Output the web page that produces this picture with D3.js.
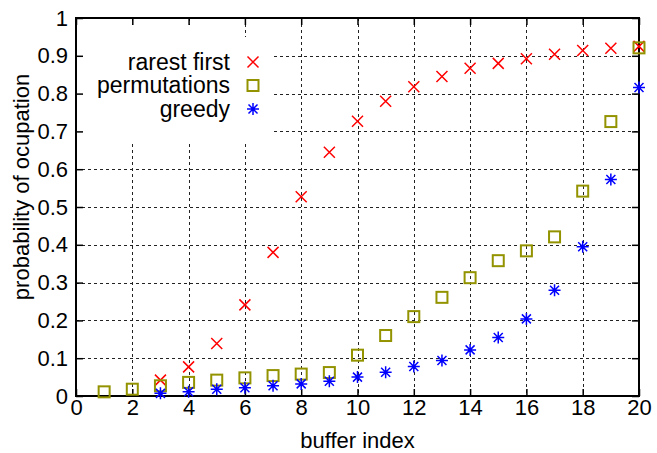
<!DOCTYPE html>
<html>
<head>
<meta charset="utf-8">
<script src="https://cdn.jsdelivr.net/npm/d3@7"></script>
<style>
	body { margin: 0; background: #fff; }
	svg { display: block; }
	text { font-family: "Liberation Sans", Arial, sans-serif; fill: #000; }
</style>
</head>
<body>
<div id="chart"></div>
<script>
// DATA
const bufferIndex = d3.range(1, 21);
const rarestFirst = [null, null, 0.042, 0.077, 0.139, 0.241, 0.380, 0.527, 0.645, 0.727,
	0.780, 0.818, 0.845, 0.867, 0.880, 0.892, 0.904, 0.914, 0.920, 0.925];
const permutations = [0.011, 0.018, 0.027, 0.036, 0.042, 0.048, 0.054, 0.058, 0.062, 0.108,
	0.160, 0.210, 0.261, 0.313, 0.358, 0.384, 0.421, 0.542, 0.726, 0.921];
const greedy = [null, null, 0.007, 0.011, 0.018, 0.022, 0.027, 0.032, 0.039, 0.050,
	0.063, 0.078, 0.094, 0.122, 0.155, 0.204, 0.280, 0.395, 0.573, 0.816];
const xTicks = [0, 2, 4, 6, 8, 10, 12, 14, 16, 18, 20];
const yTicks = [0, 0.1, 0.2, 0.3, 0.4, 0.5, 0.6, 0.7, 0.8, 0.9, 1];
const seriesNames = ["rarest first", "permutations", "greedy"];

// chart dimension
const w = 657, h = 453;
const pLeft = 76, pRight = 639, pTop = 18, pBottom = 396;
const fontSize = 22;

const svg = d3.select("#chart").append("svg")
	.attr("width", w)
	.attr("height", h);

// scales
const x = d3.scaleLinear().domain([0, 20]).range([pLeft, pRight]);
const y = d3.scaleLinear().domain([0, 1]).range([pBottom, pTop]);

// grid
const grid = svg.append("g")
	.attr("stroke", "#222")
	.attr("stroke-width", 1)
	.attr("stroke-dasharray", "3,3");
grid.selectAll(".gx")
	.data(xTicks.slice(1, -1))
	.enter().append("line")
	.attr("x1", d => Math.round(x(d)) + 0.5).attr("x2", d => Math.round(x(d)) + 0.5)
	.attr("y1", pTop).attr("y2", pBottom);
grid.selectAll(".gy")
	.data(yTicks.slice(1, -1))
	.enter().append("line")
	.attr("x1", pLeft).attr("x2", pRight)
	.attr("y1", d => Math.round(y(d)) + 0.5).attr("y2", d => Math.round(y(d)) + 0.5);

// legend background hides the grid
svg.append("rect")
	.attr("x", pLeft).attr("y", 37)
	.attr("width", 272 - pLeft).attr("height", 142 - 37)
	.attr("fill", "#fff");
svg.append("rect")
	.attr("x", pLeft).attr("y", 25)
	.attr("width", 225 - pLeft).attr("height", 15)
	.attr("fill", "#fff");

// axes (ticks inward on all sides)
const fmt = d => d3.format("~g")(d);
const axB = svg.append("g")
	.attr("transform", `translate(0,${pBottom})`)
	.call(d3.axisBottom(x).tickValues(xTicks).tickSize(-7).tickPadding(3).tickFormat(fmt));
const axL = svg.append("g")
	.attr("transform", `translate(${pLeft},0)`)
	.call(d3.axisLeft(y).tickValues(yTicks).tickSize(-7).tickPadding(8).tickFormat(fmt));
const axT = svg.append("g")
	.attr("transform", `translate(0,${pTop})`)
	.call(d3.axisTop(x).tickValues(xTicks).tickSize(-7).tickFormat(""));
const axR = svg.append("g")
	.attr("transform", `translate(${pRight},0)`)
	.call(d3.axisRight(y).tickValues(yTicks).tickSize(-7).tickFormat(""));
[axB, axL, axT, axR].forEach(a => {
	a.select(".domain").remove();
	a.selectAll("line").attr("stroke", "#000").attr("stroke-width", 1.5);
	a.selectAll("text")
		.style("font-family", '"Liberation Sans", Arial, sans-serif')
		.style("font-size", fontSize + "px");
});

// frame
svg.append("rect")
	.attr("x", pLeft).attr("y", pTop)
	.attr("width", pRight - pLeft).attr("height", pBottom - pTop)
	.attr("fill", "none")
	.attr("stroke", "#000")
	.attr("stroke-width", 2);

// marker shapes
const drawCross = (g, cx, cy) => {
	const r = 5.5;
	g.append("path")
		.attr("d", `M${cx - r},${cy - r}L${cx + r},${cy + r}M${cx - r},${cy + r}L${cx + r},${cy - r}`)
		.attr("stroke", "#ff0000").attr("stroke-width", 1.5).attr("fill", "none");
};
const drawSquare = (g, cx, cy) => {
	const r = 5.5;
	g.append("rect")
		.attr("x", cx - r).attr("y", cy - r)
		.attr("width", 2 * r).attr("height", 2 * r)
		.attr("stroke", "#939300").attr("stroke-width", 2).attr("fill", "none");
};
const drawStar = (g, cx, cy) => {
	const r = 6, d = 4.5;
	g.append("path")
		.attr("d", `M${cx - r},${cy}L${cx + r},${cy}M${cx},${cy - r}L${cx},${cy + r}` +
			`M${cx - d},${cy - d}L${cx + d},${cy + d}M${cx - d},${cy + d}L${cx + d},${cy - d}`)
		.attr("stroke", "#0000ff").attr("stroke-width", 1.5).attr("fill", "none");
};
const painters = [drawCross, drawSquare, drawStar];
const series = [rarestFirst, permutations, greedy];

// points
const marks = svg.append("g");
series.forEach((vals, si) => {
	vals.forEach((v, i) => {
		if (v === null) return;
		painters[si](marks, x(bufferIndex[i]), y(v));
	});
});

// legend
const legend = svg.append("g");
seriesNames.forEach((name, i) => {
	const cy = 62 + i * 23.5;
	legend.append("text")
		.attr("x", 230).attr("y", cy + 7.5)
		.attr("text-anchor", "end")
		.style("font-size", "23px")
		.text(name);
	painters[i](legend, 253, cy);
});

// axis titles
svg.append("text")
	.attr("x", (pLeft + pRight) / 2).attr("y", 448)
	.attr("text-anchor", "middle")
	.style("font-size", fontSize + "px")
	.text("buffer index");
svg.append("text")
	.attr("transform", `translate(29,187) rotate(-90)`)
	.attr("text-anchor", "middle")
	.style("font-size", fontSize + "px")
	.text("probability of ocupation");
</script>
</body>
</html>
